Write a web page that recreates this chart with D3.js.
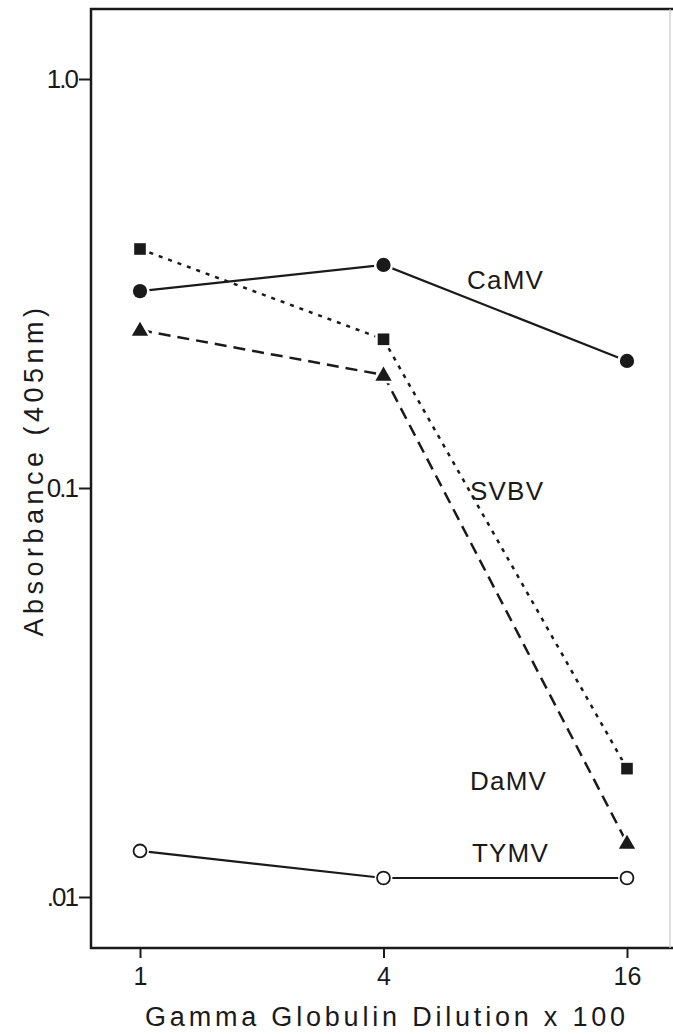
<!DOCTYPE html>
<html>
<head>
<meta charset="utf-8">
<script src="https://cdn.jsdelivr.net/npm/d3@7"></script>
<style>
  html, body { margin: 0; padding: 0; background: #fff; }
  svg { display: block; }
  text { font-family: "Liberation Sans", Arial, sans-serif; fill: #1a1a1a; }
</style>
</head>
<body>
<svg id="chart" width="673" height="1034"></svg>
<script>
// ---- data ----
const dilutions = [1, 4, 16];
const xTickLabels = ["1", "4", "16"];
const yTickValues = [1, 0.1, 0.01];
const yTickLabels = ["1.0", "0.1", ".01"];
const seriesNames = ["CaMV", "SVBV", "DaMV", "TYMV"];
const camv = [0.303, 0.351, 0.2045];
const svbv = [0.384, 0.231, 0.0206];
const damv = [0.2433, 0.189, 0.01355];
const tymv = [0.01296, 0.01113, 0.01113];

// ---- layout ----
const svg = d3.select("#chart");
const frame = { left: 91, right: 670, top: 9, bottom: 948 };

const x = d3.scaleLog().base(2).domain([1, 16]).range([140, 627]);
const y = d3.scaleLog().domain([0.01, 1]).range([897, 79]);

const ink = "#1a1a1a";

// frame: left, top, bottom bold; right edge faint
svg.append("path")
  .attr("d", `M${frame.right + 3},${frame.top}H${frame.left}V${frame.bottom}H${frame.right + 3}`)
  .attr("fill", "none").attr("stroke", ink).attr("stroke-width", 2.5);
svg.append("line")
  .attr("x1", frame.right).attr("x2", frame.right)
  .attr("y1", frame.top).attr("y2", frame.bottom)
  .attr("stroke", "#c8c8c8").attr("stroke-width", 1.2);

// y axis
const yAxis = d3.axisLeft(y)
  .tickValues(yTickValues)
  .tickFormat((d, i) => yTickLabels[i])
  .tickSize(12).tickPadding(2);
const gy = svg.append("g").attr("transform", `translate(${frame.left},0)`).call(yAxis);
gy.select(".domain").remove();
gy.selectAll(".tick line").attr("stroke", ink).attr("stroke-width", 2);
gy.selectAll(".tick text")
  .style("font-size", "26px").style("letter-spacing", "-2px")
  .attr("fill", ink);

// x axis
const xAxis = d3.axisBottom(x)
  .tickValues(dilutions)
  .tickFormat((d, i) => xTickLabels[i])
  .tickSize(10).tickPadding(9);
const gx = svg.append("g").attr("transform", `translate(0,${frame.bottom})`).call(xAxis);
gx.select(".domain").remove();
gx.selectAll(".tick line").attr("stroke", ink).attr("stroke-width", 2);
gx.selectAll(".tick text")
  .style("font-size", "25px").attr("fill", ink);

// axis titles
svg.append("text")
  .attr("x", 387).attr("y", 1026)
  .attr("text-anchor", "middle")
  .style("font-size", "27px").style("letter-spacing", "3.8px")
  .text("Gamma Globulin Dilution x 100");

svg.append("text")
  .attr("transform", "translate(43,470) rotate(-90)")
  .attr("text-anchor", "middle")
  .style("font-size", "27px").style("letter-spacing", "4.5px")
  .text("Absorbance (405nm)");

// series
const series = [
  { name: seriesNames[0], values: camv, dash: null, marker: "circle" },
  { name: seriesNames[1], values: svbv, dash: "4,6", marker: "square" },
  { name: seriesNames[2], values: damv, dash: "12,7", marker: "triangle" },
  { name: seriesNames[3], values: tymv, dash: null, marker: "open" }
];

const line = d3.line().x((d, i) => x(dilutions[i])).y(d => y(d));

series.forEach(s => {
  svg.append("path")
    .datum(s.values)
    .attr("d", line)
    .attr("fill", "none")
    .attr("stroke", ink)
    .attr("stroke-width", s.dash ? 2.5 : 2.2)
    .attr("stroke-dasharray", s.dash);
});

const symbolMap = {
  circle: d3.symbolCircle,
  square: d3.symbolSquare,
  triangle: d3.symbolTriangle,
  open: d3.symbolCircle
};
const sizeMap = { circle: 160, square: 135, triangle: 115, open: 130 };

series.forEach(s => {
  const sym = d3.symbol().type(symbolMap[s.marker]).size(sizeMap[s.marker]);
  svg.append("g").selectAll("path")
    .data(s.values)
    .join("path")
    .attr("transform", (d, i) => `translate(${x(dilutions[i])},${y(d) + (s.marker === "triangle" ? 1 : 0)})`)
    .attr("d", sym)
    .attr("fill", s.marker === "open" ? "#fff" : ink)
    .attr("stroke", "#fff")
    .attr("stroke-width", 5)
    .style("paint-order", "stroke");
  if (s.marker === "open") {
    svg.append("g").selectAll("path")
      .data(s.values)
      .join("path")
      .attr("transform", (d, i) => `translate(${x(dilutions[i])},${y(d)})`)
      .attr("d", sym)
      .attr("fill", "#fff")
      .attr("stroke", ink)
      .attr("stroke-width", 1.8);
  }
});

// series labels
const labelPos = [
  { x: 467, y: 289 },
  { x: 470, y: 500 },
  { x: 470, y: 790 },
  { x: 472, y: 862 }
];
seriesNames.forEach((n, i) => {
  svg.append("text")
    .attr("x", labelPos[i].x).attr("y", labelPos[i].y)
    .style("font-size", "26px").style("letter-spacing", "1.2px")
    .text(n);
});
</script>
</body>
</html>
